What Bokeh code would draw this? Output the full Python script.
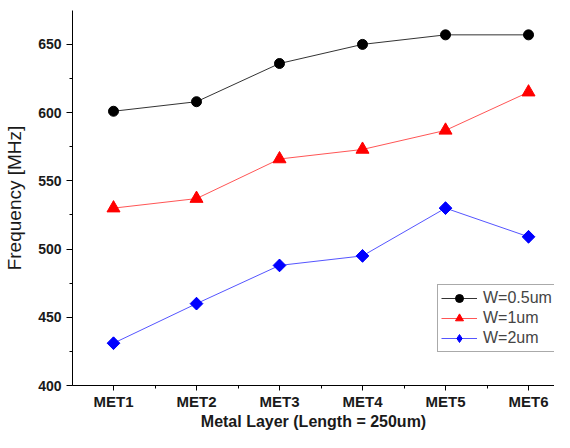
import math
from bokeh.plotting import figure
from bokeh.models import Range1d, Legend, LegendItem, FixedTicker
from bokeh.embed import file_html
from bokeh.resources import INLINE

categories = ["MET1", "MET2", "MET3", "MET4", "MET5", "MET6"]
w05 = [601, 608, 636, 650, 657, 657]
w1 = [530, 537, 566, 573, 587, 615]
w2 = [431, 460, 488, 495, 530, 509]
y_ticks = [400, 450, 500, 550, 600, 650]

xs = list(range(1, len(categories) + 1))

p = figure(width=554, height=432, output_backend="svg", toolbar_location=None,
           x_range=Range1d(0.506, 6.313), y_range=Range1d(400, 674.85),
           min_border_left=72, min_border_right=0, min_border_top=10, min_border_bottom=46)
p.outline_line_color = None
p.grid.visible = False
p.background_fill_color = "white"

font = "Liberation Sans"

r1l = p.line(xs, w05, line_color="#333333", line_width=1)
r1m = p.scatter(xs, w05, marker="circle", size=10, fill_color="black", line_color="black")
r2l = p.line(xs, w1, line_color="#ff5555", line_width=1)
r2m = p.scatter(xs, w1, marker="triangle", size=13, fill_color="red", line_color="red")
r3l = p.line(xs, w2, line_color="#5555ff", line_width=1)
# diamond marker (used for the legend swatch), covered by a rotated square on the plot
r3k = p.scatter(xs, w2, marker="diamond", size=12, fill_color="blue", line_color="blue")
r3m = p.scatter(xs, w2, marker="square", size=9, angle=math.pi / 4,
                fill_color="blue", line_color="blue")

p.xaxis.ticker = FixedTicker(ticks=xs, minor_ticks=[x + 0.5 for x in [0] + xs])
p.xaxis.major_label_overrides = {x: c for x, c in zip(xs, categories)}
p.yaxis.ticker = FixedTicker(ticks=y_ticks, minor_ticks=[400 + 25 * i for i in range(12)])

for ax in (p.xaxis[0], p.yaxis[0]):
    ax.axis_line_color = "black"
    ax.axis_line_width = 1
    ax.major_tick_line_color = "black"
    ax.minor_tick_line_color = "black"
    ax.major_tick_out = 6
    ax.major_tick_in = 0
    ax.minor_tick_out = 3
    ax.minor_tick_in = 0
    ax.major_label_text_font = font
    ax.major_label_text_font_style = "bold"
    ax.major_label_text_color = "#1a1a1a"
    ax.axis_label_text_font = font
    ax.axis_label_text_color = "#1a1a1a"

p.xaxis.major_tick_out = 5
p.xaxis.major_label_text_font_size = "15px"
p.yaxis.major_label_text_font_size = "14px"
p.xaxis.axis_label = "Metal Layer (Length = 250um)"
p.xaxis.axis_label_text_font_size = "16px"
p.xaxis.axis_label_text_font_style = "bold"
p.yaxis.axis_label = "Frequency [MHz]"
p.yaxis.axis_label_text_font_size = "19px"
p.yaxis.axis_label_text_font_style = "normal"
p.xaxis.major_label_standoff = 2
p.xaxis.axis_label_standoff = 0
p.yaxis.major_label_standoff = 5
p.yaxis.axis_label_standoff = 10

legend = Legend(items=[
    LegendItem(label="W=0.5um", renderers=[r1l, r1m]),
    LegendItem(label="W=1um", renderers=[r2l, r2m]),
    LegendItem(label="W=2um", renderers=[r3l, r3k]),
], location=(365, 33))
legend.label_text_font = font
legend.label_text_font_size = "16px"
legend.border_line_color = "#555555"
legend.border_line_width = 1
legend.padding = 3
legend.spacing = 0
legend.margin = 0
legend.glyph_width = 36
legend.glyph_height = 20
legend.label_height = 20
legend.label_standoff = 6
legend.background_fill_alpha = 1
p.add_layout(legend)

open("out.html", "w").write(file_html(p, INLINE))
